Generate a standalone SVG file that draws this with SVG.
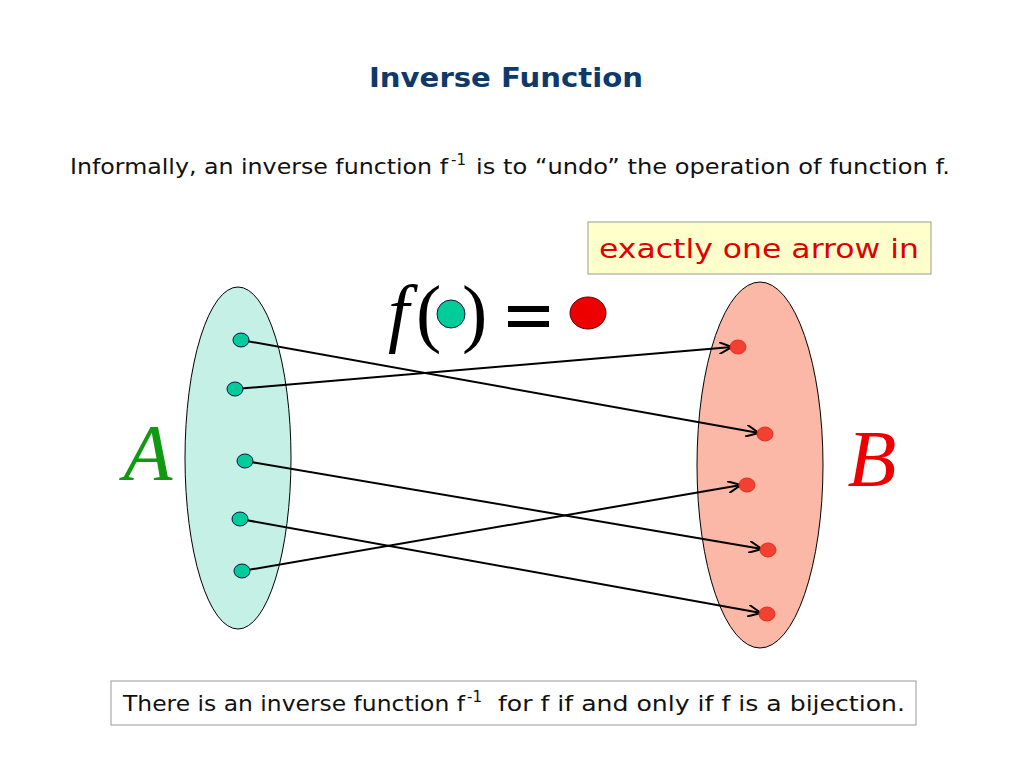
<svg xmlns="http://www.w3.org/2000/svg" width="1024" height="768" viewBox="0 0 1024 768">
<style>
.t{font-family:"DejaVu Sans",sans-serif;fill:#111}
.g{fill:#00cc99;stroke:#114;stroke-width:1}
.r{fill:#f44030;stroke:#e03020;stroke-width:1}
.c line{stroke:#000;stroke-width:2;marker-end:url(#a)}
</style>
<defs><marker id="a" markerWidth="14" markerHeight="12" refX="13" refY="6" orient="auto" markerUnits="userSpaceOnUse"><path d="M0,0 L13,6 L0,12 M13,6" fill="none" stroke="#000" stroke-width="2"/></marker></defs>
<rect width="1024" height="768" fill="#fff"/>
<text class="t" x="369" y="87" font-size="27" font-weight="bold" textLength="274" lengthAdjust="spacingAndGlyphs" style="fill:#0d3a6b">Inverse Function</text>
<text class="t" x="70" y="174" font-size="21"><tspan textLength="378" lengthAdjust="spacingAndGlyphs">Informally, an inverse function f</tspan><tspan font-size="15" dy="-9" x="451">-1</tspan><tspan dy="9" x="476" textLength="474" lengthAdjust="spacingAndGlyphs">is to “undo” the operation of function f.</tspan></text>
<g id="note"><rect x="588" y="222" width="343" height="52" fill="#ffffcc" stroke="#999"/><text class="t" x="599" y="258" font-size="26" textLength="320" lengthAdjust="spacingAndGlyphs" style="fill:#e00000">exactly one arrow in</text></g>
<g id="A"><ellipse cx="238" cy="458" rx="53" ry="171" fill="#c5f0e5" stroke="#000"/><text x="148" y="480" text-anchor="middle" font-family="Liberation Serif,serif" font-style="italic" font-size="80" fill="#119911">A</text></g>
<g id="B"><ellipse cx="760" cy="465" rx="63" ry="183" fill="#fbb8a6" stroke="#000"/><text x="872" y="486" text-anchor="middle" font-family="Liberation Serif,serif" font-style="italic" font-size="80" fill="#ee0000">B</text></g>
<g id="formula"><text x="388" y="338" font-family="Liberation Serif,serif" font-style="italic" font-size="76" fill="#000">f</text><text x="416" y="338" font-family="Liberation Serif,serif" font-size="76" fill="#000">(</text><circle cx="451" cy="314" r="14" class="g"/><text x="462" y="338" font-family="Liberation Serif,serif" font-size="76" fill="#000">)</text><rect x="508" y="306" width="41" height="6" fill="#000"/><rect x="508" y="321" width="41" height="6" fill="#000"/><ellipse cx="588" cy="313" rx="18" ry="16" fill="#ee0000" stroke="#600"/></g>
<g class="c" id="connectors">
<line x1="241" y1="340" x2="759" y2="433"/>
<line x1="235" y1="389" x2="732" y2="347"/>
<line x1="245" y1="461" x2="762" y2="549"/>
<line x1="240" y1="519" x2="761" y2="613"/>
<line x1="242" y1="571" x2="741" y2="485"/>
</g>
<g id="dots">
<ellipse class="g" cx="241" cy="340" rx="8" ry="7"/><ellipse class="g" cx="235" cy="389" rx="8" ry="7"/><ellipse class="g" cx="245" cy="461" rx="8" ry="7"/><ellipse class="g" cx="240" cy="519" rx="8" ry="7"/><ellipse class="g" cx="242" cy="571" rx="8" ry="7"/>
<ellipse class="r" cx="738" cy="347" rx="8" ry="7"/><ellipse class="r" cx="765" cy="434" rx="8" ry="7"/><ellipse class="r" cx="747" cy="485" rx="8" ry="7"/><ellipse class="r" cx="768" cy="550" rx="8" ry="7"/><ellipse class="r" cx="767" cy="614" rx="8" ry="7"/>
</g>
<g id="bottom"><rect x="111" y="681" width="805" height="44" fill="#fff" stroke="#999"/><text class="t" x="123" y="711" font-size="21"><tspan textLength="342" lengthAdjust="spacingAndGlyphs">There is an inverse function f</tspan><tspan font-size="15" dy="-9" x="467">-1</tspan><tspan dy="9" x="498" textLength="407" lengthAdjust="spacingAndGlyphs">for f if and only if f is a bijection.</tspan></text></g>
</svg>
